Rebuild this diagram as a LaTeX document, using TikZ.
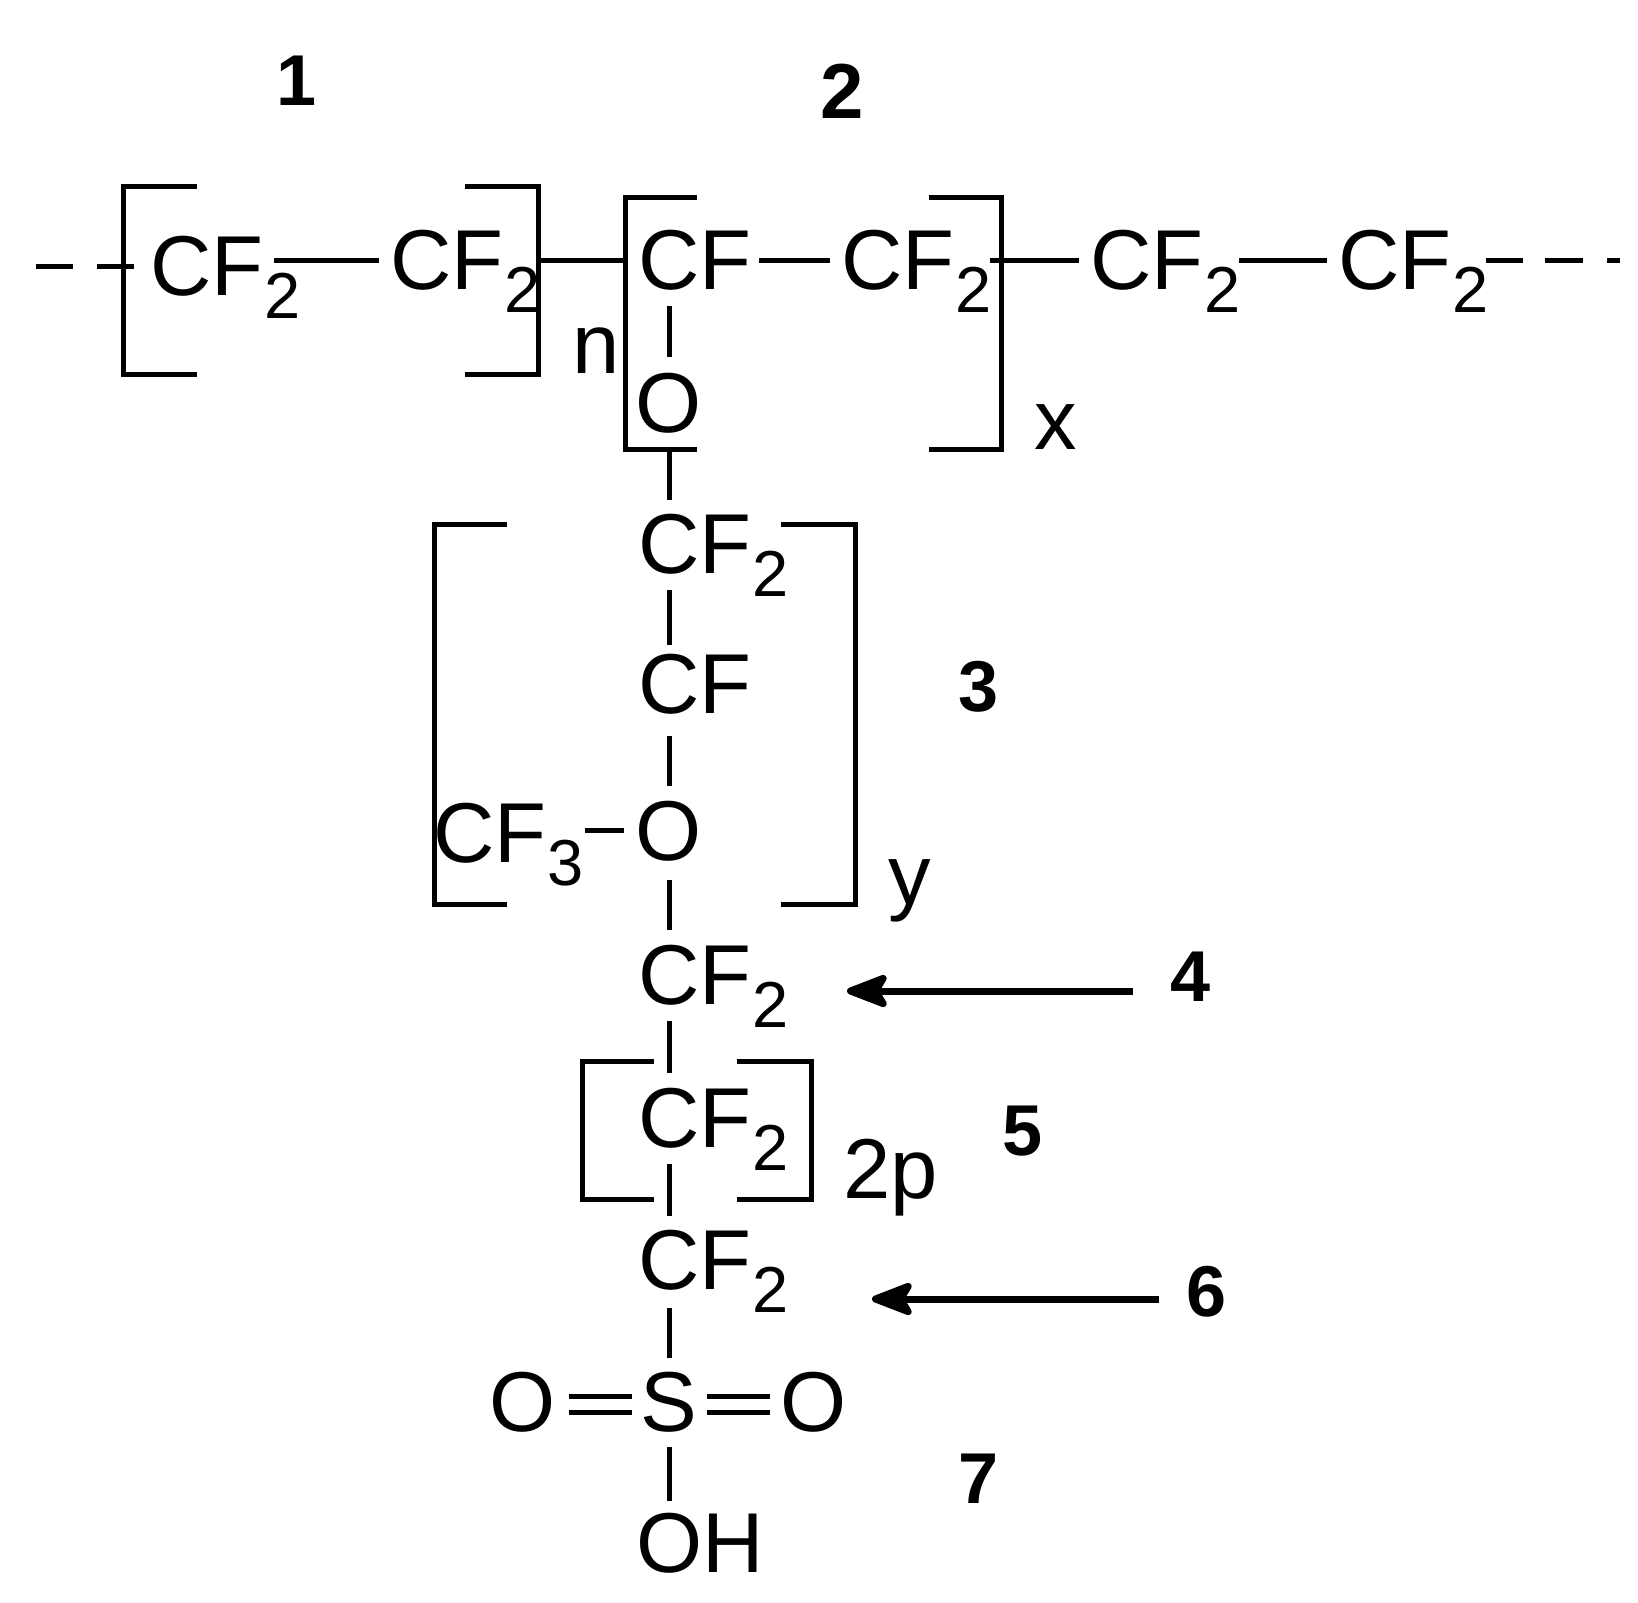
\documentclass[tikz,border=0pt]{standalone}
\usepackage{fontspec}
\setmainfont{Liberation Sans}
\usetikzlibrary{arrows.meta,calc}
\newcommand{\sbs}[1]{\kern1pt\raisebox{-23pt}{\fontsize{65}{65}\selectfont #1}}
\tikzset{
  bond/.style={line width=5pt},
  brk/.style={line width=5pt,line join=miter},
  atom/.style={inner sep=0pt,outer sep=0pt,font=\fontsize{85}{85}\selectfont,anchor=base west},
  ctr/.style={inner sep=0pt,outer sep=0pt,font=\fontsize{85}{85}\selectfont,anchor=base},
  tag/.style={inner sep=0pt,outer sep=0pt,font=\fontsize{72}{72}\selectfont\bfseries,anchor=base},
  pointer/.style={line width=7pt,-{Stealth[length=50pt,width=38pt,inset=11pt,round]}}
}
\begin{document}
\begin{tikzpicture}[x=1pt,y=-1pt]
\useasboundingbox (0,0) rectangle (1638,1603);
% main chain
\node[atom] (a1) at (150,295) {CF\sbs{2}};
\node[atom] (a2) at (390,289) {CF\sbs{2}};
\node[atom] (a3) at (638,289) {CF};
\node[atom] (a4) at (841,289) {CF\sbs{2}};
\node[atom] (a5) at (1090,289) {CF\sbs{2}};
\node[atom] (a6) at (1338,289) {CF\sbs{2}};
% side chain
\node[ctr] (o1) at (669,432) {O};
\node[atom] (b1) at (638,573) {CF\sbs{2}};
\node[atom] (b2) at (638,713) {CF};
\node[ctr] (o2) at (669,860) {O};
\node[atom] (b3) at (433,862) {CF\sbs{3}};
\node[atom] (b4) at (638,1004) {CF\sbs{2}};
\node[atom] (b5) at (638,1147) {CF\sbs{2}};
\node[atom] (b6) at (638,1289) {CF\sbs{2}};
\node[ctr] (s) at (669,1431) {S};
\node[ctr] (ol) at (523,1431) {O};
\node[ctr] (or) at (814,1431) {O};
\node[atom] (oh) at (636,1572) {OH};
% subscripts of brackets
\node[atom] (n) at (572,373) {n};
\node[atom] (x) at (1034,449) {x};
\node[atom] (y) at (888,904) {y};
\node[atom] (tp) at (843,1198) {2p};
% tags
\node[tag] (t1) at (297,105) {1};
\node[tag,font=\fontsize{78}{78}\selectfont\bfseries] (t2) at (842,118) {2};
\node[tag] (t3) at (979,711) {3};
\node[tag] (t4) at (1191,1001) {4};
\node[tag] (t5) at (1023,1155) {5};
\node[tag] (t6) at (1207,1316) {6};
\node[tag] (t7) at (979,1503) {7};
% chain bonds
\coordinate (d0) at (36,266);
\draw[bond] (d0) -- ++(37,0);
\draw[bond] ([shift={(-53,-29)}]a1.base west) -- ([shift={(-16,-29)}]a1.base west);
\draw[bond] ([shift={(124,-35)}]a1.base west) -- ([shift={(-11,-29)}]a2.base west);
\draw[bond] ([shift={(148,-29)}]a2.base west) -- ([shift={(-13,-29)}]a3.base west);
\draw[bond] ([shift={(121,-29)}]a3.base west) -- ([shift={(-11,-29)}]a4.base west);
\draw[bond] ([shift={(149,-29)}]a4.base west) -- ([shift={(-11,-29)}]a5.base west);
\draw[bond] ([shift={(149,-29)}]a5.base west) -- ([shift={(-11,-29)}]a6.base west);
\draw[bond] ([shift={(148,-29)}]a6.base west) -- ++(37,0);
\draw[bond] ([shift={(207,-29)}]a6.base west) -- ++(38,0);
\draw[bond] ([shift={(269,-29)}]a6.base west) -- ++(13,0);
% vertical bonds
\draw[bond] ([shift={(31,17)}]a3.base west) -- ([shift={(0,-75)}]o1.base);
\draw[bond] ([shift={(0,17)}]o1.base) -- ([shift={(31,-73)}]b1.base west);
\draw[bond] ([shift={(31,17)}]b1.base west) -- ([shift={(31,-68)}]b2.base west);
\draw[bond] ([shift={(31,23)}]b2.base west) -- ([shift={(0,-74)}]o2.base);
\draw[bond] ([shift={(0,20)}]o2.base) -- ([shift={(31,-74)}]b4.base west);
\draw[bond] ([shift={(31,17)}]b4.base west) -- ([shift={(31,-74)}]b5.base west);
\draw[bond] ([shift={(31,17)}]b5.base west) -- ([shift={(31,-73)}]b6.base west);
\draw[bond] ([shift={(31,19)}]b6.base west) -- ([shift={(0,-73)}]s.base);
\draw[bond] ([shift={(0,16)}]s.base) -- ([shift={(33,-71)}]oh.base west);
\draw[bond] ([shift={(152,-32)}]b3.base west) -- ([shift={(-45,-30)}]o2.base);
% double bonds
\draw[bond] ([shift={(46,-35)}]ol.base) -- ([shift={(-37,-35)}]s.base);
\draw[bond] ([shift={(46,-19)}]ol.base) -- ([shift={(-37,-19)}]s.base);
\draw[bond] ([shift={(38,-35)}]s.base) -- ([shift={(-44,-35)}]or.base);
\draw[bond] ([shift={(38,-19)}]s.base) -- ([shift={(-44,-19)}]or.base);
% brackets
\draw[brk] (197,186) -| (123,374) -- (197,374);
\draw[brk] (465,186) -| (538,374) -- (465,374);
\draw[brk] (697,197) -| (625,449) -- (697,449);
\draw[brk] (929,197) -| (1001,449) -- (929,449);
\draw[brk] (507,524) -| (434,904) -- (507,904);
\draw[brk] (781,524) -| (855,904) -- (781,904);
\draw[brk] (654,1061) -| (582,1199) -- (654,1199);
\draw[brk] (737,1061) -| (811,1199) -- (737,1199);
% arrows
\draw[pointer] (1133,991) -- ([shift={(209,-13)}]b4.base west);
\draw[pointer] (1159,1299) -- ([shift={(234,10)}]b6.base west);
\end{tikzpicture}
\end{document}
